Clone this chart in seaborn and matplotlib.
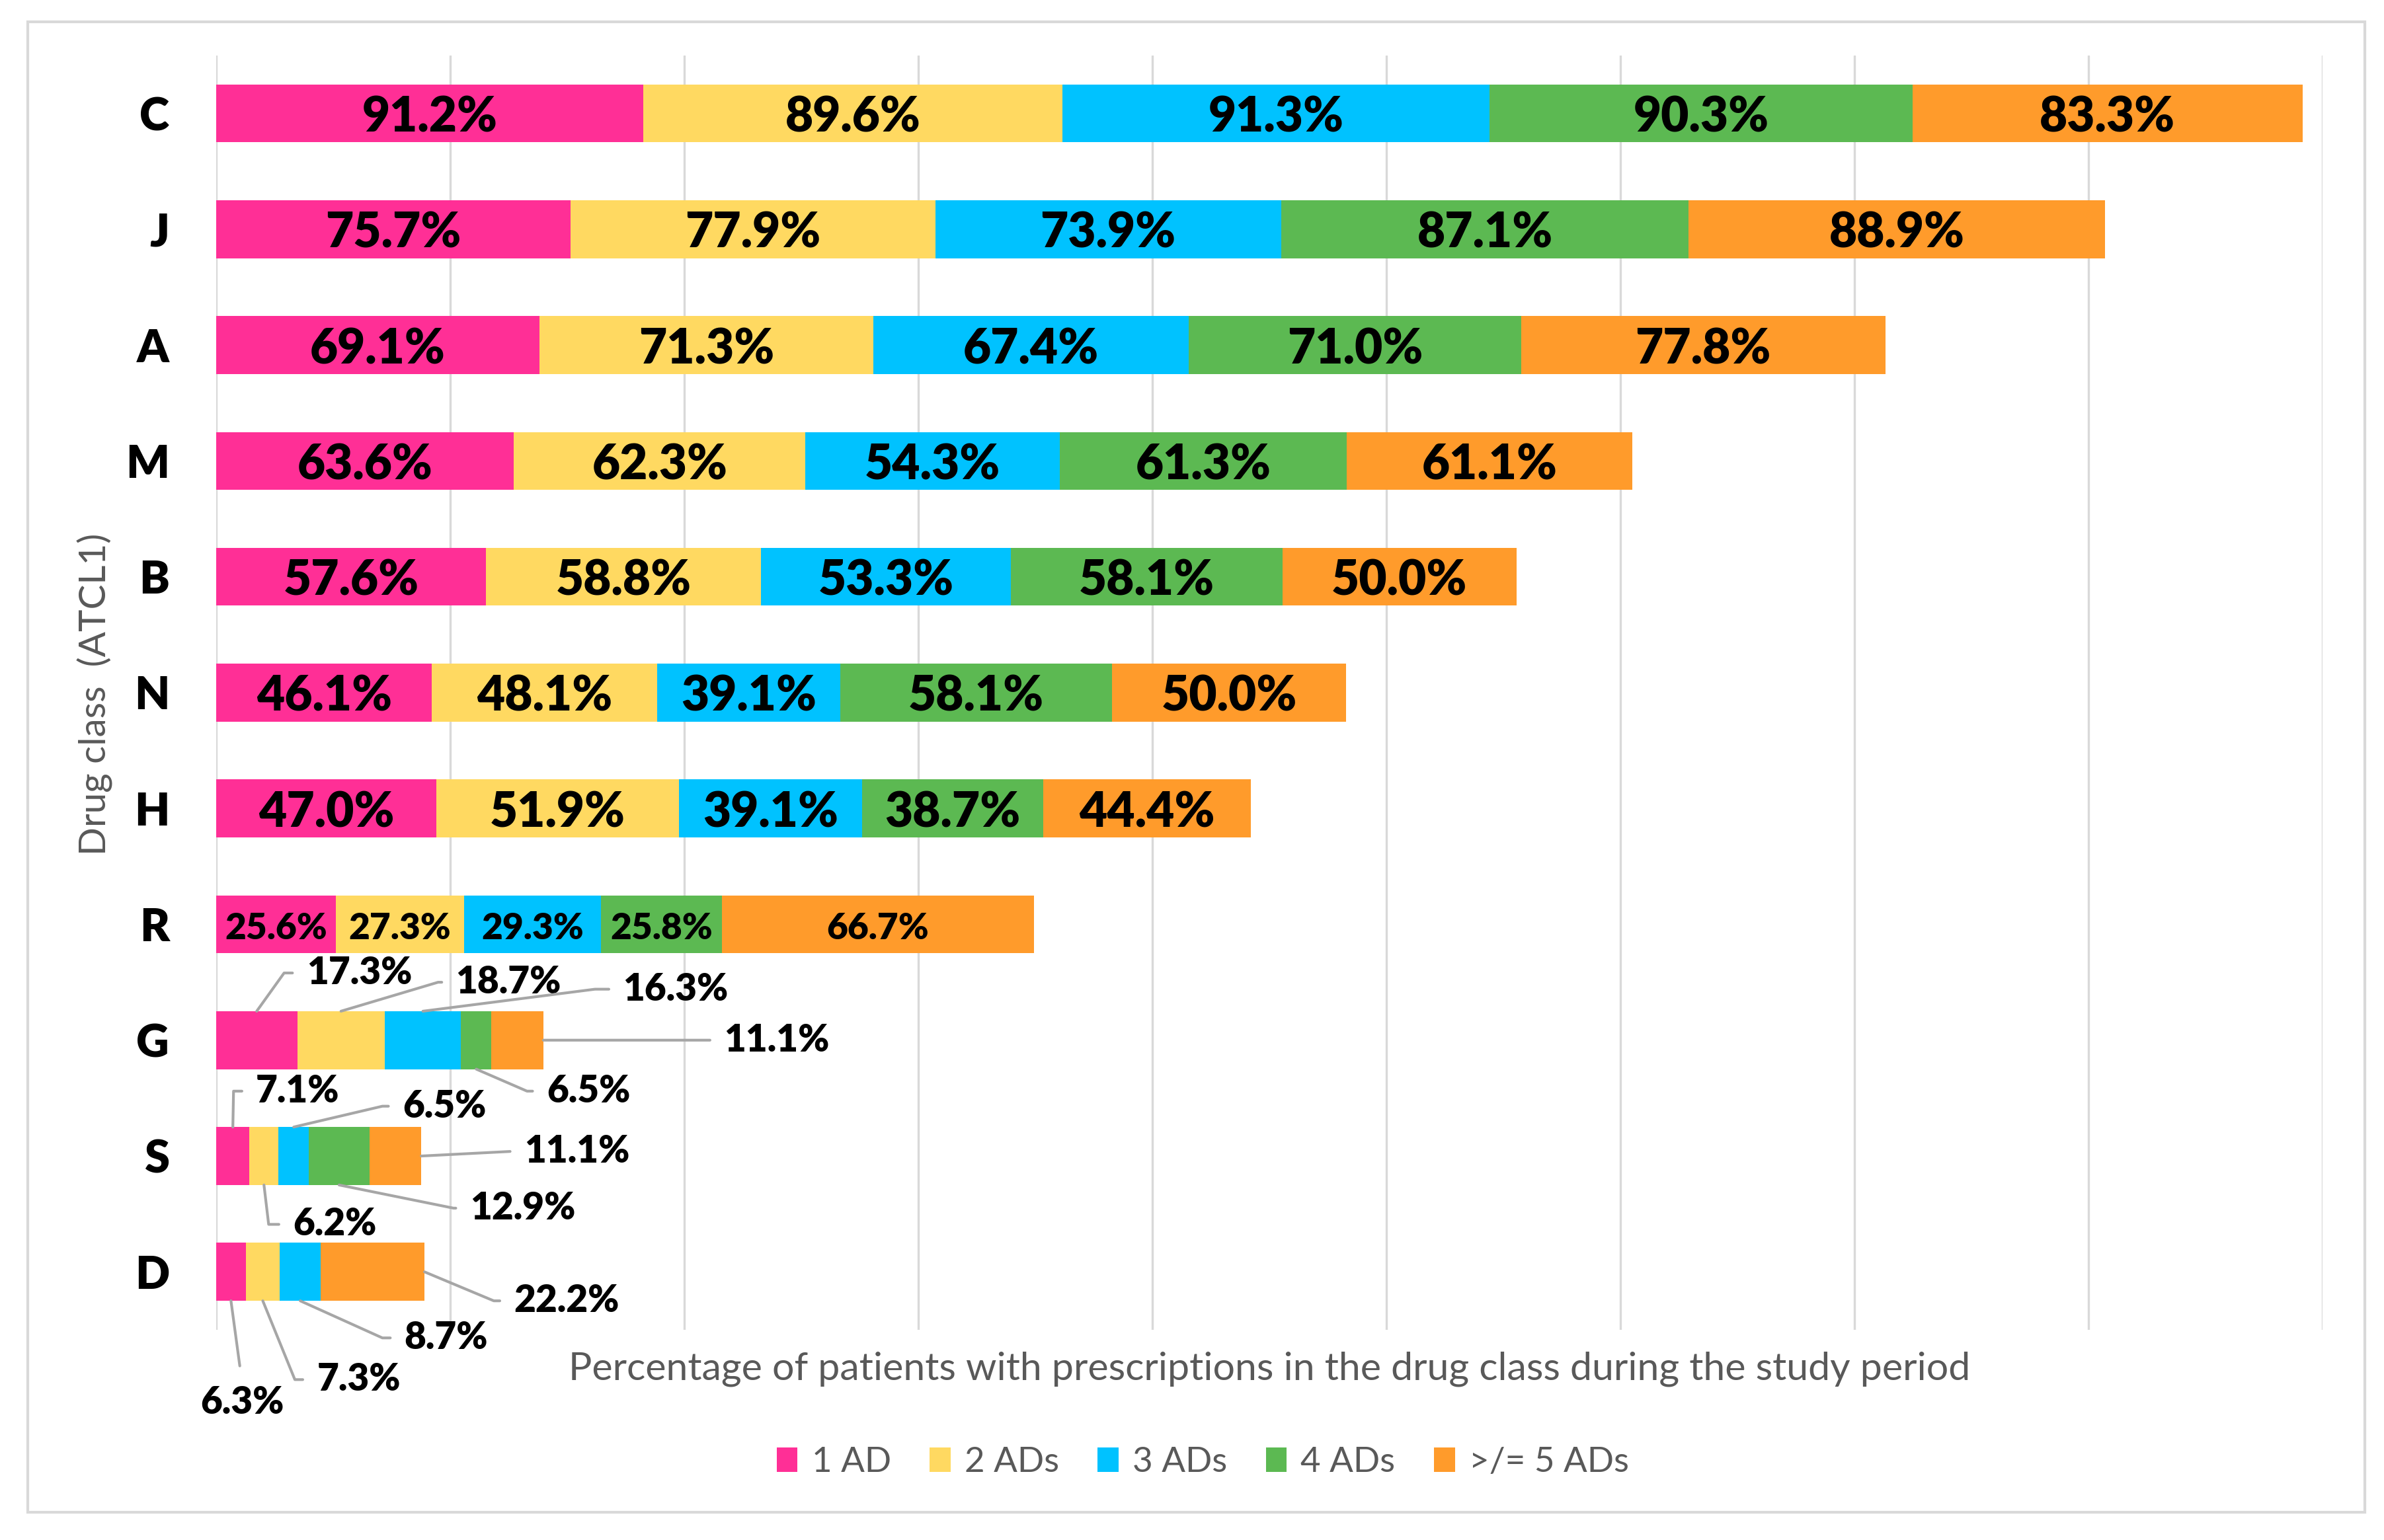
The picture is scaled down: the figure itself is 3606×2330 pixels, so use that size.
import math
import numpy as np
import pandas as pd
import matplotlib
matplotlib.use("Agg")
import matplotlib.pyplot as plt
import matplotlib.patches as mpatches
import seaborn as sns

# ---------------- data ----------------
categories = ["C", "J", "A", "M", "B", "N", "H", "R", "G", "S", "D"]
series_names = ["1 AD", "2 ADs", "3 ADs", "4 ADs", ">/= 5 ADs"]
ad1 = [91.2, 75.7, 69.1, 63.6, 57.6, 46.1, 47.0, 25.6, 17.3, 7.1, 6.3]
ad2 = [89.6, 77.9, 71.3, 62.3, 58.8, 48.1, 51.9, 27.3, 18.7, 6.2, 7.3]
ad3 = [91.3, 73.9, 67.4, 54.3, 53.3, 39.1, 39.1, 29.3, 16.3, 6.5, 8.7]
ad4 = [90.3, 87.1, 71.0, 61.3, 58.1, 58.1, 38.7, 25.8, 6.5, 12.9, 0.0]
ad5 = [83.3, 88.9, 77.8, 61.1, 50.0, 50.0, 44.4, 66.7, 11.1, 11.1, 22.2]
colors = ["#FF2F96", "#FFD961", "#00C2FF", "#5CB952", "#FF9B2B"]

x_label = "Percentage of patients with prescriptions in the drug class during the study period"
y_label = "Drug class  (ATCL1)"

# outside labels with leader lines: (row, series index, side, text x, text y, elbow x, ha)
outside_labels = [
    ("G", 0, "top", 19.3, 7.42, 14.5, "left"),
    ("G", 1, "top", 51.2, 7.50, 47.4, "left"),
    ("G", 2, "top", 86.9, 7.56, 80.9, "left"),
    ("G", 4, "end", 108.5, 8.00, None, "left"),
    ("G", 3, "bottom", 70.6, 8.44, 66.4, "left"),
    ("S", 0, "top", 8.5, 8.44, 3.7, "left"),
    ("S", 2, "top", 39.8, 8.57, 35.5, "left"),
    ("S", 4, "end", 65.8, 8.96, 63.1, "left"),
    ("S", 3, "bottom", 54.2, 9.45, 50.7, "left"),
    ("S", 1, "bottom", 16.4, 9.59, 11.2, "left"),
    ("D", 4, "end", 63.6, 10.25, 59.3, "left"),
    ("D", 2, "bottom", 40.2, 10.57, 35.5, "left"),
    ("D", 1, "bottom", 21.5, 10.93, 16.8, "left"),
    ("D", 0, "bottom", 5.6, 11.10, None, "center"),
]

# ---------------- style ----------------
sns.set_style("white")
plt.rcParams["font.family"] = ["Lato", "DejaVu Sans"]
GRAY = "#595959"
HEAVY = "heavy"

fig = plt.figure(figsize=(3606 / 300, 2330 / 300), dpi=300)
ax = fig.add_axes([0.0907, 0.1365, 0.9742 - 0.0907, 0.964 - 0.1365])

series = [ad1, ad2, ad3, ad4, ad5]
vals = np.array(series)  # shape (5, n)
cum = np.cumsum(vals, axis=0)
starts = cum - vals

# stacked bars: draw cumulative totals from the longest down
for i in range(len(series) - 1, -1, -1):
    df = pd.DataFrame({"cat": categories, "val": cum[i]})
    sns.barplot(data=df, x="val", y="cat", order=categories, orient="h",
                color=colors[i], saturation=1, width=0.5, linewidth=0,
                errorbar=None, ax=ax, zorder=2)

ax.set_xlim(0, 450)
ax.set_ylim(len(categories) - 0.5, -0.5)
ax.set_xticks(np.arange(0, 451, 50))
ax.set_xticklabels([])
ax.xaxis.grid(True, color="#D9D9D9", linewidth=0.8)
ax.yaxis.grid(False)
ax.set_axisbelow(True)
for s in ax.spines.values():
    s.set_visible(False)
ax.tick_params(axis="both", length=0)
ax.tick_params(axis="y", pad=17)
for lab in ax.get_yticklabels():
    lab.set_fontsize(16.5)
    lab.set_fontweight(HEAVY)
    lab.set_color("black")
ax.set_xlabel("")
ax.set_ylabel("")

# in-bar labels
inside_rows = ["C", "J", "A", "M", "B", "N", "H", "R"]
for r, cat in enumerate(categories):
    if cat not in inside_rows:
        continue
    fs = 13.2 if cat == "R" else 17.5
    for i in range(len(series)):
        v = vals[i, r]
        ax.text(starts[i, r] + v / 2, r + 0.04, f"{v:.1f}%", ha="center", va="center",
                fontsize=fs, fontweight=HEAVY, color="black", zorder=5)

# outside labels with leader lines
for cat, i, side, tx, ty, ex, ha in outside_labels:
    r = categories.index(cat)
    v = vals[i, r]
    if side == "end":
        px, py = cum[-1, r], r
    elif side == "top":
        px, py = starts[i, r] + v / 2, r - 0.25
    else:
        px, py = starts[i, r] + v / 2, r + 0.25
    if ha == "left":
        relpos = (0, 0.5)
        va = "center"
    else:
        relpos = (0.5, 1.0)
        va = "top"
    if ex is None or abs(ty - py) < 1e-6:
        cstyle = "arc3,rad=0"
    else:
        p_disp = ax.transData.transform((px, py))
        e_disp = ax.transData.transform((ex, ty))
        ang = math.degrees(math.atan2(e_disp[1] - p_disp[1], e_disp[0] - p_disp[0]))
        cstyle = f"angle,angleA=0,angleB={ang:.2f},rad=0"
    ax.annotate(f"{v:.1f}%", xy=(px, py), xytext=(tx, ty if ha == "left" else ty - 0.12),
                ha=ha, va=va, fontsize=13.6, fontweight=HEAVY, color="black",
                annotation_clip=False, zorder=6,
                arrowprops=dict(arrowstyle="-", color="#A6A6A6", lw=1.0,
                                shrinkA=3 if ha == "left" else 5, shrinkB=0,
                                relpos=relpos, connectionstyle=cstyle))

# axis titles
fig.text(0.040, 0.549, y_label, rotation=90, ha="center", va="center",
         fontsize=13.6, color=GRAY)
fig.text(0.5325, 0.111, x_label, ha="center", va="center", fontsize=14.2, color=GRAY)

# legend
handles = [mpatches.Patch(facecolor=c, edgecolor="none", label=n)
           for c, n in zip(colors, series_names)]
fig.legend(handles=handles, loc="center", bbox_to_anchor=(0.5045, 0.0506), ncol=5,
           frameon=False, fontsize=12.7, handlelength=0.6, handleheight=0.7,
           handletextpad=0.4, columnspacing=1.1, labelcolor=GRAY)

# outer frame
fig.patches.append(mpatches.Rectangle((0.0116, 0.018), 0.992 - 0.0116, 0.986 - 0.018,
                                      transform=fig.transFigure, fill=False,
                                      edgecolor="#D9D9D9", linewidth=1.0, zorder=0))

fig.savefig("out.png", dpi=300)
